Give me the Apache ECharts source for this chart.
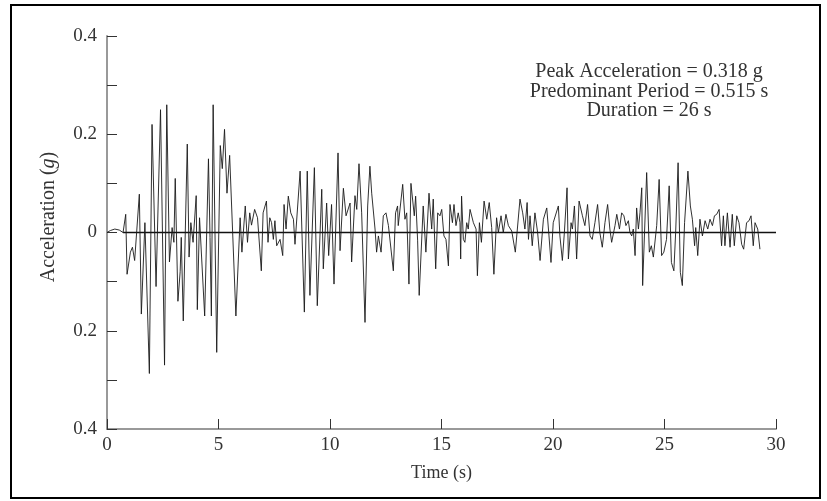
<!DOCTYPE html>
<html>
<head>
<meta charset="utf-8">
<title>Accelerogram</title>
<script src="https://cdn.jsdelivr.net/npm/echarts@6/dist/echarts.min.js"></script>
<style>
  html, body { margin: 0; padding: 0; background: #fff; }
  #chartDom { width: 827px; height: 501px; }
</style>
</head>
<body>
<div id="chartDom"></div>
<script>
// time (s) and acceleration (g)
const timeS = [
  0, 0.15, 0.35, 0.55, 0.72, 0.84, 0.9, 1.05, 1.14, 1.24, 1.45, 1.54, 1.7, 1.9, 2.02, 2.2, 2.4, 2.58, 2.68, 2.8,
  2.92, 3.0, 3.06, 3.18, 3.28, 3.33, 3.42, 3.6, 3.68, 3.76, 3.86, 4.0, 4.05, 4.15, 4.38, 4.55, 4.62, 4.68, 4.76, 4.92,
  5.08, 5.17, 5.27, 5.38, 5.5, 5.78, 5.97, 6.05, 6.2, 6.3, 6.4, 6.48, 6.62, 6.75, 6.92, 7.0, 7.15, 7.22, 7.3, 7.38,
  7.46, 7.53, 7.61, 7.76, 7.88, 7.94, 8.03, 8.13, 8.24, 8.36, 8.43, 8.51, 8.66, 8.85, 8.98, 9.1, 9.3, 9.43, 9.63, 9.7,
  9.85, 9.94, 10.07, 10.18, 10.36, 10.45, 10.6, 10.72, 10.9, 10.97, 11.12, 11.2, 11.3, 11.42, 11.57, 11.69, 11.79, 11.87, 12.02, 12.09,
  12.17, 12.29, 12.39, 12.51, 12.62, 12.84, 12.94, 13.03, 13.06, 13.26, 13.36, 13.44, 13.54, 13.63, 13.78, 13.84, 13.93, 14.0, 14.18, 14.3,
  14.44, 14.56, 14.63, 14.74, 14.83, 14.93, 15.01, 15.11, 15.2, 15.31, 15.38, 15.49, 15.56, 15.65, 15.75, 15.83, 15.86, 15.9, 15.98, 16.05,
  16.13, 16.2, 16.28, 16.43, 16.55, 16.61, 16.7, 16.79, 16.91, 17.03, 17.14, 17.25, 17.35, 17.47, 17.55, 17.67, 17.77, 17.89, 18.0, 18.15,
  18.31, 18.52, 18.64, 18.74, 18.84, 18.9, 18.97, 19.07, 19.19, 19.31, 19.42, 19.57, 19.72, 19.82, 19.91, 20.01, 20.24, 20.31, 20.42, 20.51,
  20.63, 20.69, 20.81, 20.87, 20.96, 21.06, 21.17, 21.32, 21.43, 21.55, 21.66, 21.76, 21.88, 22.0, 22.1, 22.21, 22.33, 22.45, 22.55, 22.63,
  22.78, 22.86, 22.98, 23.08, 23.18, 23.27, 23.38, 23.45, 23.53, 23.6, 23.68, 23.75, 23.83, 23.9, 23.98, 24.02, 24.2, 24.32, 24.41, 24.5,
  24.65, 24.76, 24.87, 24.97, 25.09, 25.21, 25.31, 25.42, 25.5, 25.61, 25.71, 25.8, 25.9, 26.05, 26.16, 26.25, 26.35, 26.4, 26.49, 26.59,
  26.7, 26.82, 26.94, 27.04, 27.15, 27.24, 27.34, 27.45, 27.56, 27.64, 27.71, 27.82, 27.94, 28.04, 28.13, 28.24, 28.34, 28.46, 28.55, 28.68,
  28.79, 28.88, 28.98, 29.06, 29.18, 29.28
];
const accelG = [
  0, 0.004, 0.007, 0.005, 0, 0.037, -0.085, -0.04, -0.03, -0.057, 0.078, -0.166, 0.02, -0.287, 0.22, -0.11, 0.25, -0.27, 0.26, -0.06,
  0.01, -0.02, 0.11, -0.14, -0.08, -0.01, -0.18, 0.18, -0.05, 0.02, -0.02, 0.075, -0.157, 0.03, -0.17, 0.15, -0.01, -0.17, 0.26, -0.244,
  0.177, 0.13, 0.21, 0.08, 0.157, -0.17, 0.03, -0.04, 0.054, -0.02, 0.04, 0.015, 0.047, 0.03, -0.078, 0.04, 0.064, -0.02, 0.03, 0.02,
  -0.014, 0.024, -0.027, -0.014, -0.047, 0.057, 0.007, 0.074, 0.04, 0.027, -0.024, -0.02, 0.125, -0.162, 0.125, -0.128, 0.132, -0.149, 0.088, -0.074,
  0.06, -0.047, 0.057, -0.105, 0.162, -0.037, 0.09, 0.034, 0.06, -0.06, 0.075, 0.047, 0.14, 0.04, -0.183, 0.054, 0.135, 0.08, 0.007, -0.04,
  -0.007, -0.04, 0.034, 0.04, 0.014, -0.078, 0.04, 0.054, 0.014, 0.098, 0.027, 0.04, -0.105, 0.1, 0.034, 0.074, -0.017, -0.128, 0.054, -0.04,
  0.08, 0.007, 0.068, -0.074, 0.04, 0.034, 0.047, -0.007, -0.014, -0.068, 0.057, 0.02, 0.057, 0.014, 0.04, 0.02, -0.054, 0.074, -0.014, -0.02,
  0.02, 0.007, 0.047, 0.02, 0.007, -0.088, 0.02, -0.02, 0.064, 0.027, 0.061, 0.01, -0.085, 0.03, 0, 0.034, 0, 0.037, 0.014, 0.003,
  -0.04, 0.068, 0.04, 0.007, 0.061, -0.014, 0.034, -0.027, 0.04, 0, -0.057, 0.027, 0.05, -0.007, -0.061, 0.02, 0.054, -0.007, -0.057, 0,
  0.091, -0.054, 0.02, 0.007, 0.054, -0.054, 0.064, 0.034, 0.014, 0.057, -0.007, -0.014, 0.02, 0.057, 0, -0.03, 0.02, 0.057, 0.007, -0.02,
  0.014, 0.037, 0.007, 0.04, 0.034, 0.014, 0.024, 0, -0.007, 0.007, -0.047, 0.05, 0.007, 0.04, 0.091, -0.108, 0.122, -0.04, -0.027, -0.05,
  0.014, 0.108, -0.047, -0.04, -0.014, 0.095, -0.061, -0.078, 0, 0.142, -0.081, -0.108, 0.02, 0.125, 0.054, 0.027, -0.027, 0.01, -0.047, 0.027,
  -0.007, 0.024, 0.007, 0.027, 0.014, 0.034, 0.037, 0.047, -0.027, 0.034, -0.027, 0.04, -0.03, 0.037, -0.027, 0.034, 0.02, -0.024, -0.034, 0.02,
  0.024, 0.034, -0.027, 0.02, 0.007, -0.034
];
// black zero line drawn under the record
const zeroLineT = [0.72, 30];
// y ticks every 0.1, only these carry a label (shown without sign)
const yLabelled = [-0.4, -0.2, 0, 0.2, 0.4];

const annotation = [
  "Peak Acceleration = 0.318 g",
  "Predominant Period = 0.515 s",
  "Duration = 26 s",
];

const serif = '"Liberation Serif", "Times New Roman", serif';
const textGray = "#333";

const myChart = echarts.init(document.getElementById("chartDom"), null, { renderer: "canvas" });

const recordData = timeS.map((t, i) => [t, accelG[i]]);

myChart.setOption({
  animation: false,
  backgroundColor: "#fff",
  grid: {
    left: 107,
    right: 51,
    top: 36,
    bottom: 72,
  },
  xAxis: {
    type: "value",
    min: 0,
    max: 30,
    interval: 5,
    name: "Time (s)",
    nameLocation: "middle",
    nameGap: 35,
    nameTextStyle: { fontFamily: serif, fontSize: 18, color: textGray },
    axisLine: { show: true, onZero: false, lineStyle: { color: "#999", width: 2 } },
    axisTick: { show: true, inside: true, length: 10, lineStyle: { color: "#333", width: 1 } },
    axisLabel: { margin: 7, fontFamily: serif, fontSize: 19, color: textGray },
    splitLine: { show: false },
  },
  yAxis: {
    type: "value",
    min: -0.4,
    max: 0.4,
    interval: 0.1,
    axisLine: { show: true, onZero: false, lineStyle: { color: "#999", width: 2 } },
    axisTick: { show: true, inside: true, length: 10, lineStyle: { color: "#333", width: 1 } },
    axisLabel: {
      margin: 10,
      fontFamily: serif,
      fontSize: 19,
      color: textGray,
      formatter: function (v) {
        const r = Math.round(v * 10) / 10;
        if (yLabelled.indexOf(r) < 0) return "";
        return r === 0 ? "0" : Math.abs(r).toFixed(1);
      },
    },
    splitLine: { show: false },
  },
  graphic: [
    {
      // 外框
      type: "rect",
      shape: { x: 11, y: 5, width: 809, height: 493 },
      style: { fill: "none", stroke: "#000", lineWidth: 2 },
      silent: true,
    },
    {
      type: "text",
      x: 49,
      y: 217,
      rotation: Math.PI / 2,
      style: {
        text: "Acceleration ({i|g})",
        font: "20px " + serif,
        fill: textGray,
        align: "center",
        verticalAlign: "middle",
        rich: { i: { fontStyle: "italic", fontFamily: serif, fontSize: 20, fill: textGray } },
      },
    },
    ...annotation.map((line, i) => ({
      type: "text",
      x: 649,
      y: 72 + i * 19.5,
      style: {
        text: line,
        font: "20px " + serif,
        fill: textGray,
        align: "center",
        verticalAlign: "middle",
      },
    })),
  ],
  series: [
    {
      name: "zero",
      type: "line",
      data: zeroLineT.map((t) => [t, 0]),
      symbol: "none",
      lineStyle: { color: "#111", width: 1.3 },
      silent: true,
      z: 1,
    },
    {
      name: "record",
      type: "line",
      data: recordData,
      symbol: "none",
      showSymbol: false,
      sampling: null,
      lineStyle: { color: "#1a1a1a", width: 0.9 },
      z: 2,
    },
  ],
});
</script>
</body>
</html>
